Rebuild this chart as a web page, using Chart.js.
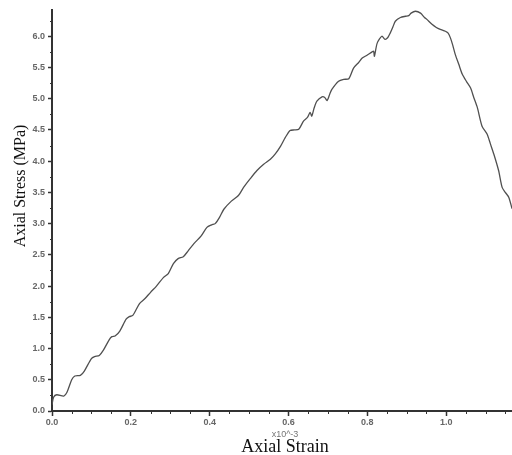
<!DOCTYPE html>
<html>
<head>
<meta charset="utf-8">
<script src="https://cdn.jsdelivr.net/npm/chart.js@4.4.1/dist/chart.umd.min.js"></script>
<style>
  html, body { margin: 0; padding: 0; background: #ffffff; }
  #wrap { width: 512px; height: 455px; position: relative; }
</style>
</head>
<body>
<div id="wrap"><canvas id="c" width="512" height="455"></canvas></div>
<script>
// ---- data ----
const strain = [0, 0.004, 0.012, 0.03, 0.038, 0.05, 0.058, 0.072, 0.082, 0.1, 0.108, 0.12, 0.13, 0.145, 0.152, 0.16, 0.172, 0.188, 0.196, 0.205, 0.222, 0.236, 0.25, 0.265, 0.283, 0.295, 0.308, 0.32, 0.333, 0.345, 0.36, 0.378, 0.393, 0.405, 0.414, 0.425, 0.436, 0.455, 0.473, 0.486, 0.503, 0.52, 0.537, 0.554, 0.567, 0.58, 0.592, 0.604, 0.615, 0.626, 0.638, 0.648, 0.655, 0.659, 0.665, 0.672, 0.685, 0.692, 0.698, 0.705, 0.71, 0.727, 0.74, 0.753, 0.765, 0.778, 0.787, 0.80, 0.812, 0.816, 0.818, 0.825, 0.837, 0.845, 0.852, 0.858, 0.865, 0.871, 0.884, 0.897, 0.905, 0.911, 0.922, 0.935, 0.945, 0.951, 0.964, 0.975, 0.985, 0.998, 1.005, 1.011, 1.017, 1.023, 1.032, 1.041, 1.052, 1.062, 1.07, 1.079, 1.091, 1.104, 1.112, 1.121, 1.133, 1.142, 1.15, 1.159, 1.167];
const stress = [0.10, 0.22, 0.26, 0.24, 0.30, 0.50, 0.56, 0.57, 0.64, 0.84, 0.87, 0.89, 0.97, 1.14, 1.19, 1.20, 1.28, 1.47, 1.51, 1.53, 1.72, 1.80, 1.90, 2.00, 2.14, 2.20, 2.36, 2.44, 2.47, 2.56, 2.68, 2.80, 2.94, 2.98, 3.00, 3.10, 3.23, 3.36, 3.45, 3.58, 3.72, 3.85, 3.95, 4.03, 4.12, 4.24, 4.38, 4.49, 4.50, 4.51, 4.64, 4.70, 4.78, 4.72, 4.85, 4.96, 5.03, 5.02, 4.97, 5.08, 5.15, 5.28, 5.31, 5.32, 5.49, 5.58, 5.65, 5.70, 5.75, 5.76, 5.68, 5.89, 6.00, 5.95, 5.98, 6.05, 6.15, 6.24, 6.30, 6.32, 6.33, 6.37, 6.40, 6.37, 6.30, 6.27, 6.19, 6.14, 6.11, 6.08, 6.05, 5.97, 5.85, 5.71, 5.55, 5.39, 5.27, 5.17, 5.02, 4.86, 4.56, 4.43, 4.28, 4.11, 3.85, 3.58, 3.50, 3.42, 3.24];
const xTicks = [0.0, 0.2, 0.4, 0.6, 0.8, 1.0];
const yTicks = [0.0, 0.5, 1.0, 1.5, 2.0, 2.5, 3.0, 3.5, 4.0, 4.5, 5.0, 5.5, 6.0];
const xTitle = 'Axial Strain';
const xMultiplier = 'x10^-3';
const yTitle = 'Axial Stress (MPa)';
const xRange = [0, 1.167];
const yRange = [0, 6.42];

const points = strain.map((s, i) => ({ x: s, y: stress[i] }));

const textPlugin = {
  id: 'extras',
  afterDraw(chart) {
    const ctx = chart.ctx;
    const xs = chart.scales.x, ys = chart.scales.y;
    const area = chart.chartArea;
    ctx.save();
    // minor ticks
    ctx.strokeStyle = '#333';
    ctx.lineWidth = 1;
    for (let i = 0; i < xTicks.length; i++) {
      for (const f of [0.25, 0.5, 0.75]) {
        const v = xTicks[i] + f * 0.2;
        if (v > xRange[1]) continue;
        const px = Math.round(xs.getPixelForValue(v)) + 0.5;
        ctx.beginPath(); ctx.moveTo(px, area.bottom); ctx.lineTo(px, area.bottom + 3); ctx.stroke();
      }
    }
    for (let i = 0; i < yTicks.length; i++) {
      const v = yTicks[i] + 0.25;
      if (v > yRange[1]) continue;
      const py = Math.round(ys.getPixelForValue(v)) + 0.5;
      ctx.beginPath(); ctx.moveTo(area.left, py); ctx.lineTo(area.left - 2, py); ctx.stroke();
    }
    // titles
    ctx.fillStyle = '#111';
    ctx.textAlign = 'center';
    ctx.textBaseline = 'middle';
    ctx.font = '16px "Liberation Serif", "Times New Roman", serif';
    ctx.save();
    ctx.translate(21, 186);
    ctx.rotate(-Math.PI / 2);
    ctx.fillText(yTitle, 0, 0);
    ctx.restore();
    ctx.font = '18px "Liberation Serif", "Times New Roman", serif';
    ctx.fillText(xTitle, 285, 447);
    ctx.fillStyle = '#777';
    ctx.font = '9px "Liberation Sans", Arial, sans-serif';
    ctx.fillText(xMultiplier, 285, 435);
    ctx.restore();
  }
};

new Chart(document.getElementById('c'), {
  type: 'scatter',
  data: {
    datasets: [{
      data: points,
      showLine: true,
      borderColor: '#505050',
      borderWidth: 1.3,
      pointRadius: 0,
      tension: 0.25,
      fill: false
    }]
  },
  options: {
    responsive: false,
    animation: false,
    layout: { padding: { top: 10, right: 0, left: 0, bottom: 0 } },
    plugins: { legend: { display: false }, tooltip: { enabled: false } },
    scales: {
      x: {
        type: 'linear',
        min: xRange[0], max: xRange[1],
        afterBuildTicks: (s) => { s.ticks = xTicks.map(v => ({ value: v })); },
        afterFit: (s) => { s.height = 44; },
        ticks: {
          color: '#666',
          font: { size: 9, weight: 'bold', family: '"Liberation Sans", Arial, sans-serif' },
          padding: 1,
          maxRotation: 0,
          callback: (v) => Number(v).toFixed(1)
        },
        grid: { drawOnChartArea: false, drawTicks: true, tickLength: 5, tickColor: '#333', tickWidth: 1.5 },
        border: { display: true, color: '#333', width: 2 }
      },
      y: {
        type: 'linear',
        min: yRange[0], max: yRange[1],
        afterBuildTicks: (s) => { s.ticks = yTicks.map(v => ({ value: v })); },
        afterFit: (s) => { s.width = 52; },
        ticks: {
          color: '#666',
          font: { size: 9, weight: 'bold', family: '"Liberation Sans", Arial, sans-serif' },
          padding: 3,
          callback: (v) => Number(v).toFixed(1)
        },
        grid: { drawOnChartArea: false, drawTicks: true, tickLength: 4, tickColor: '#333', tickWidth: 1.5 },
        border: { display: true, color: '#333', width: 2 }
      }
    }
  },
  plugins: [textPlugin]
});
</script>
</body>
</html>
